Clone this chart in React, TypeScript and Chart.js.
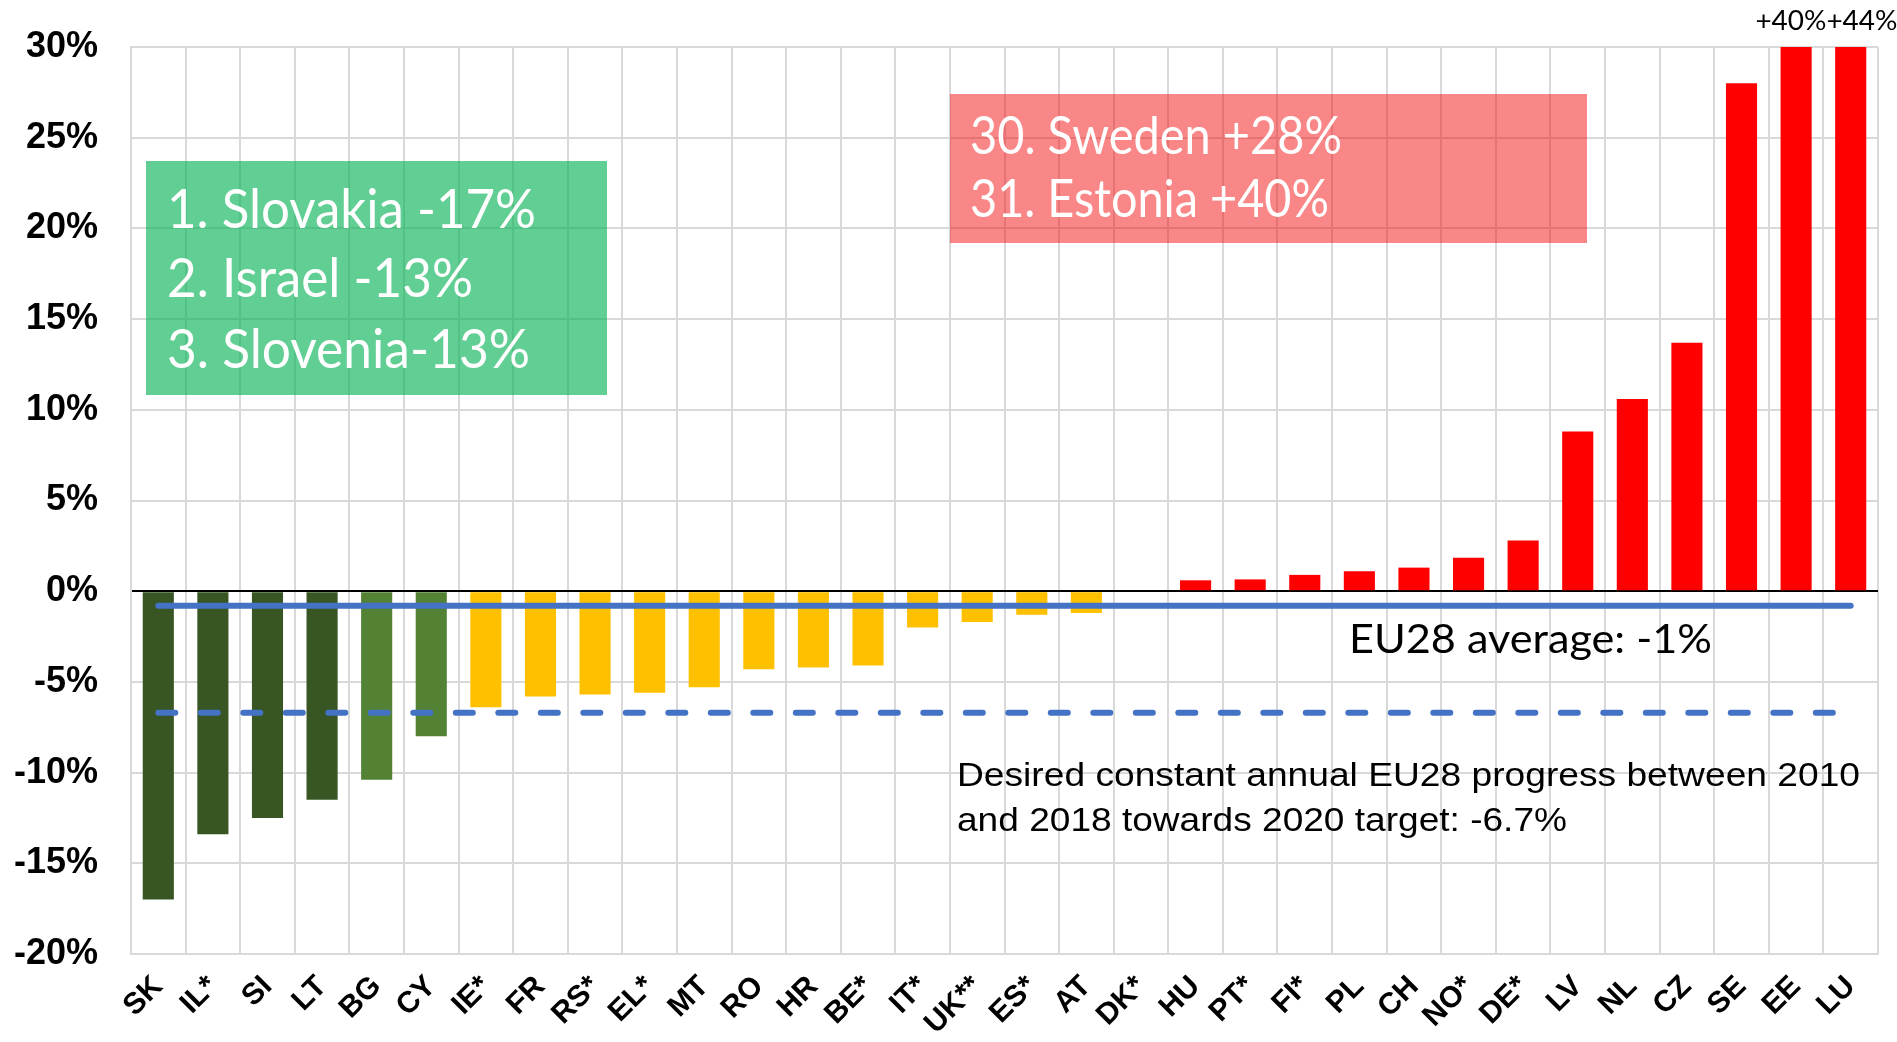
import React, { useEffect, useRef } from "react";
import { Chart, registerables } from "chart.js";

Chart.register(...registerables);

// ---- data ----
const countries = [
  "SK", "IL*", "SI", "LT", "BG", "CY", "IE*", "FR", "RS*", "EL*", "MT", "RO", "HR", "BE*", "IT*", "UK**",
  "ES*", "AT", "DK*", "HU", "PT*", "FI*", "PL", "CH", "NO*", "DE*", "LV", "NL", "CZ", "SE", "EE", "LU",
];
const changes = [
  -17.0, -13.4, -12.5, -11.5, -10.4, -8.0, -6.4, -5.8, -5.7, -5.6, -5.3, -4.3, -4.2, -4.1, -2.0, -1.7,
  -1.3, -1.2, 0, 0.6, 0.65, 0.9, 1.1, 1.3, 1.85, 2.8, 8.8, 10.6, 13.7, 28.0, 40, 44,
];
const DG = "#375623";
const MG = "#548235";
const YL = "#FFC000";
const RD = "#FF0000";
const barColors = [
  DG, DG, DG, DG, MG, MG, YL, YL, YL, YL, YL, YL, YL, YL, YL, YL,
  YL, YL, YL, RD, RD, RD, RD, RD, RD, RD, RD, RD, RD, RD, RD, RD,
];
const EU28_AVERAGE = -0.8;
const TARGET = -6.7;
const yTicks = [-20, -15, -10, -5, 0, 5, 10, 15, 20, 25, 30];
const clippedLabels = [
  { country: "EE", text: "+40%" },
  { country: "LU", text: "+44%" },
];
const bestBox = ["1. Slovakia -17%", "2. Israel -13%", "3. Slovenia-13%"];
const worstBox = ["30. Sweden +28%", "31. Estonia +40%"];
const averageText = "EU28 average: -1%";
const targetText = [
  "Desired constant annual EU28 progress between 2010",
  "and 2018 towards 2020 target: -6.7%",
];

const CAL = "Lato, 'Open Sans', sans-serif";
const ARIAL = "'Liberation Sans', Arial, sans-serif";

function fitText(ctx: CanvasRenderingContext2D, text: string, x: number, y: number, w: number, font: string) {
  ctx.font = font;
  const m = ctx.measureText(text).width;
  ctx.save();
  ctx.translate(x, y);
  ctx.scale(w / m, 1);
  ctx.textAlign = "left";
  ctx.textBaseline = "alphabetic";
  ctx.fillText(text, 0, 0);
  ctx.restore();
}

const annotationPlugin = {
  id: "annotations",
  afterDatasetsDraw(chart: any) {
    const ctx: CanvasRenderingContext2D = chart.ctx;
    ctx.save();
    // green box
    ctx.fillStyle = "rgba(0,176,80,0.62)";
    ctx.fillRect(146, 161, 461, 234);
    ctx.fillStyle = "#ffffff";
    const gw = [369, 306, 363];
    const gb = [228, 297, 368];
    bestBox.forEach((t, i) => fitText(ctx, t, 167, gb[i], gw[i], `54px ${CAL}`));
    // red box
    ctx.fillStyle = "rgba(242,0,0,0.47)";
    ctx.fillRect(950, 94, 637, 149);
    ctx.fillStyle = "#ffffff";
    const rw = [372, 359];
    const rb = [154, 217];
    worstBox.forEach((t, i) => fitText(ctx, t, 970, rb[i], rw[i], `52px ${CAL}`));
    // average text
    ctx.fillStyle = "#000000";
    fitText(ctx, averageText, 1349, 653, 363, `40px ${CAL}`);
    // target text
    fitText(ctx, targetText[0], 957, 786, 903, `33px ${ARIAL}`);
    fitText(ctx, targetText[1], 957, 831, 610, `33px ${ARIAL}`);
    // clipped bar labels
    const xs = chart.scales.x;
    const xe = xs.getPixelForValue(countries.indexOf(clippedLabels[0].country));
    const xl = xs.getPixelForValue(countries.indexOf(clippedLabels[1].country));
    const mid = (xe + xl) / 2 + 3;
    fitText(ctx, clippedLabels[0].text, mid - 71, 30, 71, `27px ${CAL}`);
    fitText(ctx, clippedLabels[1].text, mid, 30, 71, `27px ${CAL}`);
    ctx.restore();
  },
};

export default function App() {
  const ref = useRef<HTMLCanvasElement>(null);
  useEffect(() => {
    document.body.style.margin = "0";
    const canvas = ref.current;
    if (!canvas) return;
    const chart = new Chart(canvas, {
      type: "bar",
      data: {
        labels: countries,
        datasets: [
          {
            type: "line",
            data: [
              { x: countries[0], y: EU28_AVERAGE },
              { x: countries[countries.length - 1], y: EU28_AVERAGE },
            ],
            borderColor: "#4472C4",
            borderWidth: 6,
            borderCapStyle: "round",
            pointRadius: 0,
            order: 0,
          } as any,
          {
            type: "line",
            data: [
              { x: countries[0], y: TARGET },
              { x: countries[countries.length - 1], y: TARGET },
            ],
            borderColor: "#4472C4",
            borderWidth: 6,
            borderCapStyle: "round",
            borderDash: [17, 25.5],
            pointRadius: 0,
            order: 0,
          } as any,
          {
            type: "bar",
            data: changes,
            backgroundColor: barColors,
            borderWidth: 0,
            barPercentage: 0.57,
            categoryPercentage: 1,
            order: 1,
          } as any,
        ],
      },
      options: {
        responsive: false,
        devicePixelRatio: 1,
        animation: false,
        events: [],
        layout: { padding: { left: 0, top: 47, right: 19, bottom: 0 } },
        plugins: { legend: { display: false }, tooltip: { enabled: false } },
        scales: {
          x: {
            type: "category",
            offset: true,
            grid: { offset: true, color: "#d9d9d9", lineWidth: 2, drawTicks: false },
            border: { color: "#d9d9d9", width: 2 },
            ticks: {
              autoSkip: false,
              maxRotation: 45,
              minRotation: 45,
              color: "#000",
              padding: 15,
              labelOffset: 0,
              font: { family: ARIAL, size: 30, weight: "bold" },
            },
            afterFit(scale: any) {
              scale.height = 88;
            },
          },
          y: {
            min: yTicks[0],
            max: yTicks[yTicks.length - 1],
            afterBuildTicks(scale: any) {
              scale.ticks = yTicks.map((v) => ({ value: v }));
            },
            grid: {
              color: (c: any) => (c.tick && c.tick.value === 0 ? "#000000" : "#d9d9d9"),
              lineWidth: 2,
              drawTicks: false,
            },
            border: { color: "#d9d9d9", width: 2 },
            ticks: {
              color: "#000",
              padding: 33,
              font: { family: ARIAL, size: 36, weight: "bold", lineHeight: 0.3 },
              callback: (v: any) => `${v}%`,
            },
            afterFit(scale: any) {
              scale.width = 131;
            },
          },
        },
      } as any,
      plugins: [annotationPlugin],
    });
    return () => chart.destroy();
  }, []);
  return <canvas ref={ref} width={1897} height={1042} style={{ display: "block" }} />;
}
